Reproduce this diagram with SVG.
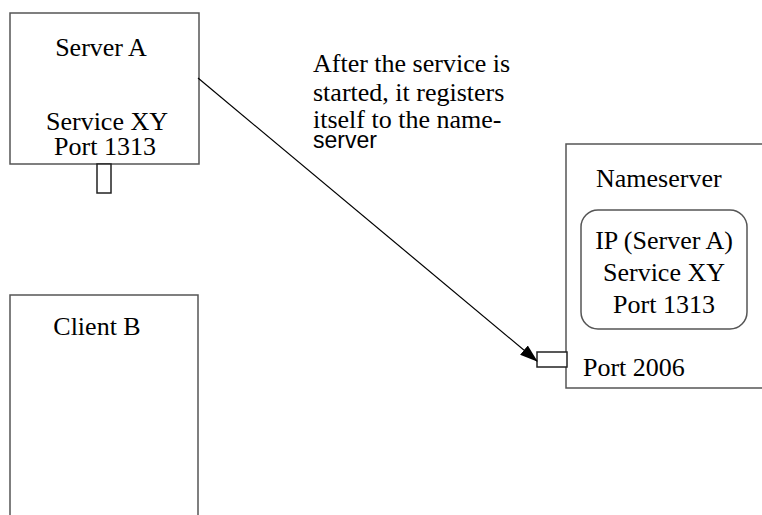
<svg xmlns="http://www.w3.org/2000/svg" width="762" height="515" viewBox="0 0 762 515">
  <style>
    .box { fill: #ffffff; stroke: #555555; stroke-width: 1.5; }
    .port { fill: #ffffff; stroke: #222222; stroke-width: 1.5; }
    .lbl { font-family: "Liberation Serif", "Times New Roman", serif; font-size: 26px; fill: #000000; }
    .sans { font-family: "Liberation Sans", Arial, sans-serif; font-size: 23px; fill: #000000; }
    .mid { text-anchor: middle; }
    .edge { stroke: #000000; stroke-width: 1.2; fill: none; }
  </style>
  <defs>
    <marker id="arrowhead" markerWidth="18" markerHeight="12" refX="17" refY="6" orient="auto" markerUnits="userSpaceOnUse">
      <path d="M0,0 L18,6 L0,12 Z" fill="#000000"/>
    </marker>
  </defs>
  <rect width="762" height="515" fill="#ffffff"/>

  <!-- Server A with its service port -->
  <g id="server-a">
    <rect class="box" x="10" y="13" width="189" height="151"/>
    <text class="lbl mid" x="101" y="56">Server A</text>
    <text class="lbl mid" x="107" y="130">Service XY</text>
    <text class="lbl mid" x="105" y="155">Port 1313</text>
    <rect class="port" x="97" y="164" width="14" height="29"/>
  </g>

  <!-- Client B, open at the bottom -->
  <g id="client-b">
    <path class="box" d="M10,520 L10,295 L198,295 L198,520"/>
    <text class="lbl mid" x="97" y="335">Client B</text>
  </g>

  <!-- Nameserver with its registry entry and port -->
  <g id="nameserver">
    <rect class="box" x="566" y="144" width="210" height="244"/>
    <text class="lbl" x="596" y="187">Nameserver</text>
    <rect class="box" x="581" y="210" width="166" height="119" rx="17" ry="17"/>
    <text class="lbl mid" x="664" y="249">IP (Server A)</text>
    <text class="lbl mid" x="664" y="281">Service XY</text>
    <text class="lbl mid" x="664" y="313">Port 1313</text>
    <rect class="port" x="537" y="352" width="30" height="15"/>
    <text class="lbl" x="583" y="376">Port 2006</text>
  </g>

  <!-- Registration note -->
  <g id="note">
    <text class="lbl" x="313" y="72">After the service is</text>
    <text class="lbl" x="313" y="101">started, it registers</text>
    <text class="lbl" x="313" y="128">itself to the name-</text>
    <text class="sans" x="313" y="148">server</text>
  </g>

  <g id="connectors">
    <line class="edge" x1="198" y1="78" x2="537" y2="361" marker-end="url(#arrowhead)"/>
  </g>
</svg>
